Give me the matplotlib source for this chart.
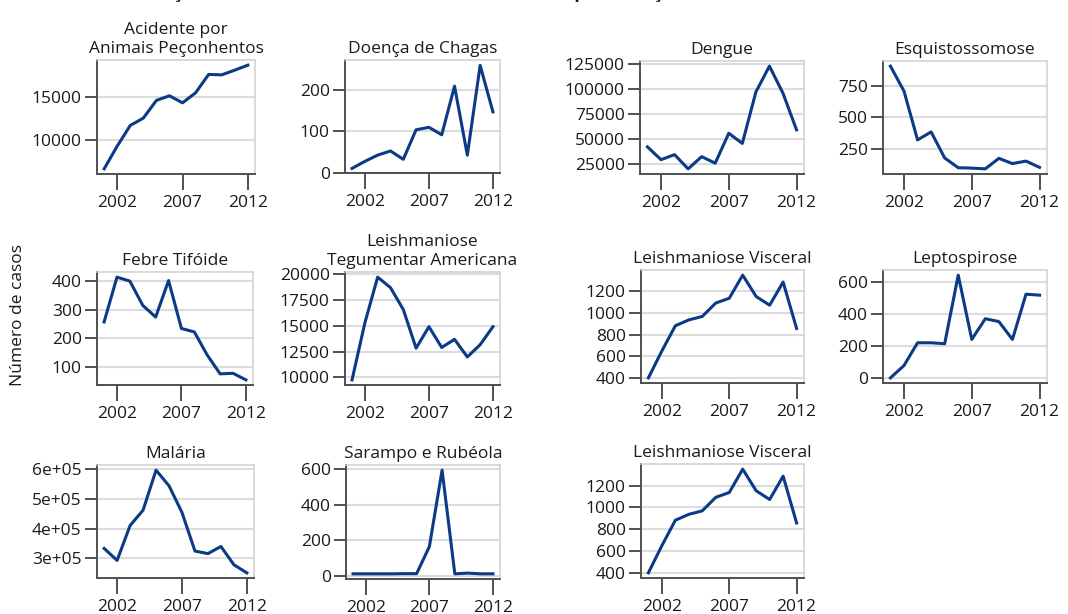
import matplotlib
matplotlib.use('Agg')
import matplotlib.pyplot as plt
from matplotlib.ticker import FuncFormatter

plt.rcParams['font.family'] = ['Open Sans', 'DejaVu Sans']

years = list(range(2001, 2013))

acidente = [6740, 9350, 11720, 12560, 14590, 15120, 14310, 15460, 17570, 17520, 18060, 18630]
chagas = [11, 28, 43, 53, 33, 104, 110, 92, 209, 43, 259, 147]
dengue = [41900, 29070, 34150, 19900, 32120, 25600, 55520, 45350, 96800, 122660, 95500, 58900]
esquisto = [908, 708, 319, 383, 175, 97, 94, 88, 172, 130, 150, 100]
febre = [257, 414, 400, 315, 274, 402, 234, 222, 141, 75, 77, 54]
lta = [9755, 15280, 19730, 18710, 16590, 12830, 14920, 12900, 13690, 11980, 13170, 14920]
lv = [400, 649, 882, 936, 968, 1092, 1136, 1350, 1152, 1072, 1286, 857]
lepto = [3, 80, 222, 222, 216, 644, 243, 372, 354, 243, 525, 519]
malaria = [333000, 292400, 410300, 462300, 597800, 544800, 454500, 324100, 315400, 339600, 277700, 250300]
sarampo = [13, 13, 13, 13, 14, 14, 165, 592, 13, 17, 13, 13]

titles = ['Acidente por\nAnimais Peçonhentos', 'Doença de Chagas', 'Dengue', 'Esquistossomose',
          'Febre Tifóide', 'Leishmaniose\nTegumentar Americana', 'Leishmaniose Visceral', 'Leptospirose',
          'Malária', 'Sarampo e Rubéola', 'Leishmaniose Visceral']
series = [acidente, chagas, dengue, esquisto, febre, lta, lv, lepto, malaria, sarampo, lv]
yticks = [[10000, 15000], [0, 100, 200], [25000, 50000, 75000, 100000, 125000], [250, 500, 750],
          [100, 200, 300, 400], [10000, 12500, 15000, 17500, 20000], [400, 600, 800, 1000, 1200],
          [0, 200, 400, 600], [300000, 400000, 500000, 600000], [0, 200, 400, 600],
          [400, 600, 800, 1000, 1200]]
xticks = [2002, 2007, 2012]

# panel boxes in pixels: left, top, right, bottom
boxes = [(97, 60, 255, 174), (345, 60, 500, 173), (640, 61, 804, 174), (883, 61, 1047, 174),
         (97, 272, 253, 385), (345, 272, 500, 385), (641, 270, 804, 383), (883, 270, 1047, 383),
         (97, 465, 254, 578), (346, 465, 500, 579), (641, 464, 804, 578)]

W, H = 1068, 614
navy = '#0b3a86'
dark = '#505050'
light = '#d0d0d0'
txt = '#1a1a1a'

fig = plt.figure(figsize=(W / 100, H / 100), dpi=100)

for title, vals, yt, box in zip(titles, series, yticks, boxes):
    l, t, r, b = box
    ax = fig.add_axes([l / W, 1 - b / H, (r - l) / W, (b - t) / H])
    ax.plot(years, vals, color=navy, lw=2.2, zorder=3)
    lo, hi = min(vals), max(vals)
    rng = hi - lo
    if title == 'Doença de Chagas':
        ax.set_ylim(0, hi * 1.05)
        ax.axhline(0, color=navy, lw=1.0, zorder=4)
    else:
        ax.set_ylim(lo - 0.05 * rng, hi + 0.05 * rng)
    ax.set_xlim(2000.45, 2012.55)
    ax.set_xticks(xticks)
    ax.set_yticks(yt)
    if title == 'Malária':
        ax.yaxis.set_major_formatter(FuncFormatter(lambda v, p: f'{v:.0e}'))
    ax.yaxis.grid(True, color='#dcdcdc', lw=1.5, zorder=0)
    ax.set_axisbelow(True)
    for s in ['top', 'right']:
        ax.spines[s].set_color(light)
        ax.spines[s].set_linewidth(1.1)
    for s in ['left', 'bottom']:
        ax.spines[s].set_color(dark)
        ax.spines[s].set_linewidth(1.4)
    ax.tick_params(axis='y', length=9, width=1.4, color=dark, pad=2, labelsize=12.5, labelcolor=txt)
    ax.tick_params(axis='x', length=11.3, width=1.4, color=dark, pad=3.5, labelsize=12.5, labelcolor=txt)
    ax.set_title(title, fontsize=12.5, color=txt, pad=5, linespacing=1.25)

fig.text(18 / W, 1 - 315 / H, 'Número de casos', rotation=90, ha='center', va='center',
         fontsize=12.5, color=txt)

# the main title is cut by the top edge in the reference, only descenders show
fig.text(478 / W, 1 + 2.5 / H, 'Evolução do número de casos notificados no Brasil por doença entre 2001 e 2012',
         ha='center', va='baseline', fontsize=12.8, fontweight='bold', color=txt)

fig.savefig('out.png', dpi=100, facecolor='white')
